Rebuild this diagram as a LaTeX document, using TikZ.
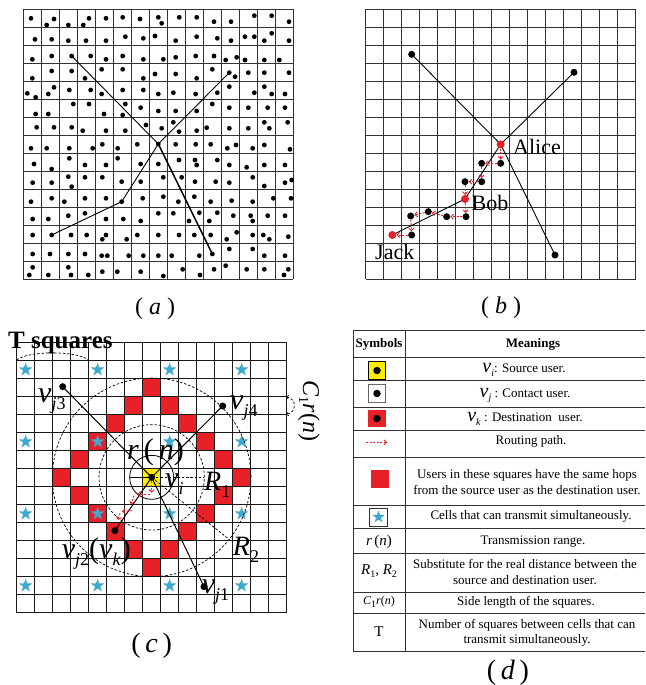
\documentclass[tikz,border=0pt]{standalone}
\usepackage{fontspec}
\setmainfont{Liberation Serif}
\usetikzlibrary{arrows.meta,shapes.geometric}
\definecolor{myred}{RGB}{232,32,40}
\definecolor{myyellow}{RGB}{255,236,0}
\definecolor{starblue}{RGB}{64,168,204}
\newcommand{\mysub}[1]{\raisebox{-7pt}{\fontsize{18}{18}\selectfont #1}}
\newcommand{\csub}[1]{\raisebox{-4pt}{\fontsize{14}{14}\selectfont #1}}
\newcommand{\tsub}[1]{\raisebox{-3.5pt}{\fontsize{10}{10}\selectfont #1}}
\newcommand{\bigv}{{\fontsize{20}{20}\selectfont\itshape v}}
\begin{document}
\begin{tikzpicture}[x=1pt,y=-1pt,
  gridl/.style={line width=0.6pt, draw=black!80},
  gridc/.style={line width=0.8pt, draw=black!90},
  conn/.style={line width=0.9pt, draw=black},
  bdot/.style={circle, fill=black, minimum size=7pt, inner sep=0pt},
  rdot/.style={circle, fill=myred, minimum size=8pt, inner sep=0pt},
  rarr/.style={draw=myred, line width=0.9pt, dash pattern=on 2pt off 1.5pt, -{Straight Barb[length=2.5pt,width=5pt]}},
  dcirc/.style={line width=0.7pt, dash pattern=on 2.5pt off 1.8pt},
  starnode/.style={star, star points=5, star point ratio=2.5, fill=starblue, minimum size=14pt, inner sep=0pt},
  tline/.style={line width=0.8pt, draw=black!80},
  cell/.style={font=\fontsize{13}{15.5}\selectfont, align=center, inner sep=0pt},
  biglab/.style={font=\fontsize{30}{30}\selectfont, anchor=base west, inner sep=0pt},
  namelab/.style={font=\fontsize{22}{22}\selectfont, anchor=base west, inner sep=0pt},
  capt/.style={font=\fontsize{24}{24}\selectfont, inner sep=0pt}]
\fill[white] (0,0) rectangle (645,685);
\useasboundingbox (0,0) rectangle (645,685);

% ---------------- (a)
\begin{scope}[x=0.33333pt,y=-0.33333pt]
 \foreach \k in {0,...,15} {
   \draw[gridl] (70+54*\k,28) -- (70+54*\k,838);
   \draw[gridl] (70,28+54*\k) -- (880,28+54*\k);
 }
 \coordinate (A1) at (215,168);
 \coordinate (AC) at (475,432);
 \coordinate (A2) at (637,762);
 \coordinate (B1) at (688,218);
 \coordinate (B2) at (365,605);
 \coordinate (B3) at (155,705);
 \draw[conn] (A1) -- (AC);
 \draw[conn, line width=1.5pt] (AC) -- (A2);
 \draw[conn] (B1) -- (AC) -- (B2) -- (B3);
 \foreach \c in {A1,AC,A2,B1,B2,B3} \fill (\c) circle[radius=2.4pt];
 \foreach \p in {(93,55),(140,75),(162,57),(205,75),(250,75),(267,55),(318,55),(368,52),(420,57),(475,52),(485,70),(538,52),(590,52),(642,65),(693,65),(763,47),(815,47),(867,65),
 (105,118),(155,118),(205,122),(258,122),(318,122),(376,110),(430,115),(465,108),(527,122),(590,110),(652,115),(693,122),(735,110),(763,110),(793,122),(815,100),(867,122),
 (97,178),(155,168),(272,168),(318,178),(368,168),(430,178),(490,178),(527,172),(587,168),(642,168),(677,180),(710,172),(735,180),(793,180),(838,180),
 (97,235),(155,213),(215,213),(255,235),(305,208),(368,208),(430,235),(465,222),(527,222),(590,235),(637,208),(705,230),(745,218),(793,218),(867,218),
 (82,280),(107,292),(145,282),(162,262),(208,270),(272,270),(305,282),(368,270),(430,270),(475,282),(520,278),(587,282),(652,278),(688,260),(763,278),(793,260),(815,282),(855,282),
 (107,342),(145,342),(220,312),(267,312),(312,342),(368,345),(376,312),(422,323),(475,333),(527,333),(590,333),(637,312),(688,323),(745,323),(803,323),(855,323),
 (110,382),(162,382),(215,382),(248,392),(318,392),(376,392),(438,375),(485,385),(520,367),(537,395),(590,392),(620,383),(688,385),(745,385),(793,367),(808,385),(863,367),
 (93,445),(140,445),(208,445),(278,445),(307,433),(353,445),(412,433),(527,433),(587,433),(632,433),(682,445),(708,435),(758,445),(793,435),(870,448),
 (102,492),(155,507),(208,475),(255,495),(318,495),(353,475),(422,492),(475,492),(537,480),(585,480),(590,495),(652,480),(688,495),(740,502),(793,495),(855,495),
 (98,548),(155,548),(205,530),(215,560),(255,532),(307,532),(365,545),(422,545),(490,532),(545,532),(585,545),(647,545),(688,548),(758,532),(793,558),(855,548),(875,540),
 (93,605),(155,595),(193,605),(255,595),(318,595),(428,595),(490,590),(535,605),(583,590),(632,605),(695,602),(758,605),(820,595),(873,595),
 (98,657),(145,657),(205,647),(255,640),(318,657),(370,657),(422,663),(475,640),(520,640),(567,663),(598,638),(628,663),(652,638),(700,647),(752,647),(758,663),(803,647),(855,647),
 (98,705),(213,705),(260,705),(307,718),(318,705),(380,718),(412,705),(475,705),(537,705),(583,705),(632,705),(680,718),(710,697),(758,705),(790,705),(808,718),(865,710),
 (98,762),(150,762),(205,762),(255,762),(305,767),(322,767),(386,767),(430,767),(475,767),(515,767),(598,767),(688,747),(758,747),(793,767),(855,767),
 (88,825),(98,802),(145,825),(205,802),(213,825),(265,825),(307,815),(352,815),(422,815),(490,828),(548,808),(600,825),(642,808),(677,797),(740,808),(793,808),(852,825),(865,808)}
   \fill \p circle[radius=2.4pt];
\end{scope}
\node[capt] (capa) at (155,309) {( \textit{a} )};

% ---------------- (b)
\begin{scope}[shift={(330pt,0pt)},x=0.33333pt,y=-0.33333pt]
 \foreach \k in {0,...,15} {
   \draw[gridl] (107+54*\k,28) -- (107+54*\k,838);
   \draw[gridl] (107,28+54*\k) -- (917,28+54*\k);
 }
 \coordinate (p1) at (245,163);
 \coordinate (p2) at (732,217);
 \coordinate (p3) at (675,765);
 \coordinate (al) at (512,433);
 \coordinate (bo) at (405,597);
 \coordinate (ja) at (187,705);
 \draw[conn] (p1) -- (al) -- (p3);
 \draw[conn] (p2) -- (al) -- (bo) -- (ja);
 \node[bdot] (p1d) at (p1) {};
 \node[bdot] (p2d) at (p2) {};
 \node[bdot] (p3d) at (p3) {};
 \node[bdot] (d1) at (512,490) {};
 \node[bdot] (d2) at (455,490) {};
 \node[bdot] (d3) at (455,545) {};
 \node[bdot] (d4) at (405,545) {};
 \node[bdot] (d5) at (408,650) {};
 \node[bdot] (d6) at (350,650) {};
 \node[bdot] (d7) at (295,635) {};
 \node[bdot] (d8) at (242,648) {};
 \node[bdot] (d9) at (245,705) {};
 \node[rdot] (alD) at (al) {};
 \node[rdot] (boD) at (bo) {};
 \node[rdot] (jaD) at (ja) {};
 \draw[rarr] (alD) -- (d1);
 \draw[rarr] (d1) -- (d2);
 \draw[rarr] (d2) -- (d3);
 \draw[rarr] (d3) -- (d4);
 \draw[rarr] (d4) -- (boD);
 \draw[rarr] (boD) -- (d5);
 \draw[rarr] (d5) -- (d6);
 \draw[rarr] (d6) -- (d7);
 \draw[rarr] (d7) -- (d8);
 \draw[rarr] (d8) -- (d9);
 \draw[rarr] (d9) -- (jaD);
\end{scope}
\node[namelab] (alicel) at (513,154) {Alice};
\node[namelab] (bobl) at (471.5,210.5) {Bob};
\node[namelab] (jackl) at (375,259) {Jack};
\node[capt] (capb) at (501,308) {( \textit{b} )};

% ---------------- (c)
\begin{scope}[shift={(0pt,-320pt)},x=0.33333pt,y=-0.33333pt]
 \foreach \i/\j in {7/2,6/3,8/3,5/4,9/4,4/5,10/5,3/6,11/6,2/7,12/7,3/8,11/8,4/9,10/9,5/10,9/10,6/11,8/11,7/12}
   \fill[myred] (50+54*\i,68+54*\j) rectangle ++(54,54);
 \fill[myyellow] (50+54*7,68+54*7) rectangle ++(54,54);
 \foreach \i in {0,4,8,12} \foreach \j in {1,5,9,13}
   \node[starnode] (s\i-\j) at (77+54*\i,95+54*\j) {};
 \foreach \k in {0,...,15} {
   \draw[gridc] (50+54*\k,68) -- (50+54*\k,878);
   \draw[gridc] (50,68+54*\k) -- (860,68+54*\k);
 }
 \coordinate (vi) at (455,472);
 \coordinate (vj1) at (612,800);
 \coordinate (vj2) at (345,632);
 \coordinate (vj3) at (188,200);
 \coordinate (vj4) at (668,258);
 \coordinate (rnend) at (389,472);
 \coordinate (r1end) at (613,472);
 \coordinate (r2end) at (687.6,658.3);
 \draw[line width=0.8pt] (vi) circle[radius=22pt];
 \draw[dcirc] (vi) circle[radius=52.7pt];
 \draw[dcirc] (vi) circle[radius=99.3pt];
 \draw[line width=0.8pt] (vi) -- (rnend);
 \draw[dcirc] (vi) -- (r1end);
 \draw[dcirc] (vi) -- (r2end);
 \draw[line width=1pt] (vj3) -- (vi) -- (vj1);
 \draw[line width=1pt] (vj4) -- (vi) -- (vj2);
 \node[bdot] (vjd1) at (vj1) {};
 \node[bdot] (vjd2) at (vj2) {};
 \node[bdot] (vjd3) at (vj3) {};
 \node[bdot] (vjd4) at (vj4) {};
 \node[bdot] (vid) at (vi) {};
 \coordinate (ca1) at (455,484);
 \coordinate (ca2) at (455,518);
 \coordinate (ca3) at (450,522);
 \coordinate (ca4) at (412,522);
 \coordinate (ca5) at (402,527);
 \coordinate (ca6) at (393,553);
 \coordinate (ca7) at (396,572);
 \coordinate (ca8) at (366,574);
 \coordinate (ca9) at (360,580);
 \coordinate (ca10) at (354,600);
 \draw[rarr] (ca1) -- (ca2);
 \draw[rarr] (ca3) -- (ca4);
 \draw[rarr] (ca5) -- (ca6);
 \draw[rarr] (ca7) -- (ca8);
 \draw[rarr] (ca9) -- (ca10);
\end{scope}
\coordinate (tsa) at (16.7,360);
\coordinate (tsb) at (88.3,360);
\draw[dcirc] (tsa) .. controls (28,350.5) and (77,350.5) .. (tsb);
\coordinate (cra) at (286,396.7);
\coordinate (crb) at (286,414.7);
\draw[dcirc, {Straight Barb[length=2pt,width=3.5pt]}-{Straight Barb[length=2pt,width=3.5pt]}] (cra) .. controls (297,399) and (297,412) .. (crb);
\node[font=\fontsize{25}{25}\selectfont\bfseries, anchor=base west, inner sep=0pt] (tsq) at (8,348) {T squares};
\node[font=\fontsize{24}{24}\selectfont, rotate=-90, inner sep=0pt] (c1rn) at (309,411) {\textit{C}\csub{1}\textit{r}(\textit{n})};
\node[biglab] (lvj3) at (38,402) {\textit{v}\mysub{\textit{j}3}};
\node[biglab] (lvj4) at (230,409) {\textit{v}\mysub{\textit{j}4}};
\node[biglab] (lvi) at (165,487) {\textit{v}\mysub{\textit{i}}};
\node[biglab, font=\fontsize{28}{28}\selectfont] (lr1) at (204,490) {\textit{R}\mysub{1}};
\node[biglab, font=\fontsize{28}{28}\selectfont] (lr2) at (232.7,555) {\textit{R}\mysub{2}};
\node[biglab] (lrn) at (127,459) {\textit{r}\,(\,\textit{n})};
\node[biglab] (lvj2) at (61.7,558) {\textit{v}\mysub{\textit{j}2}(\textit{v}\mysub{\textit{k}})};
\node[biglab] (lvj1) at (201.7,593.3) {\textit{v}\mysub{\textit{j}1}};
\node[capt, font=\fontsize{28}{28}\selectfont] (capc) at (151.7,646) {(\,\textit{c}\,)};

% ---------------- (d) table
\foreach \y in {330.7,357.3,380.7,407,430.3,457,505.3,528,553.3,592,613,651.5}
  \draw[tline] (353.3,\y) -- (645,\y);
\draw[tline] (353.3,330.7) -- (353.3,651.5);
\draw[tline] (405,330.7) -- (405,651.5);
\node[cell, font=\fontsize{13}{15.5}\selectfont\bfseries] (hsym) at (379,344) {Symbols};
\node[cell, font=\fontsize{13}{15.5}\selectfont\bfseries] (hmean) at (533,344) {Meanings};
\node[draw=black, line width=0.8pt, fill=myyellow, minimum size=17.5pt, inner sep=0pt] (sy1) at (377,370.5) {};
\node[bdot, minimum size=7.5pt] (sy1d) at (sy1) {};
\node[draw=black!60, line width=1pt, fill=white, minimum size=17.5pt, inner sep=0pt] (sy2) at (377,393.5) {};
\node[bdot, minimum size=7.5pt] (sy2d) at (sy2) {};
\node[fill=myred, minimum size=17.5pt, inner sep=0pt] (sy3) at (377,418.5) {};
\node[bdot, minimum size=7.5pt] (sy3d) at (sy3) {};
\coordinate (sy4a) at (366,442.3);
\coordinate (sy4b) at (387,442.3);
\draw[rarr] (sy4a) -- (sy4b);
\node[fill=myred, minimum size=18pt, inner sep=0pt] (sy5) at (380,479) {};
\node[draw=black!80, line width=0.9pt, minimum size=18pt, inner sep=0pt] (sy6) at (378.5,517) {};
\node[starnode, minimum size=13pt] (sy6s) at (sy6) {};
\node[cell, font=\fontsize{15}{15}\selectfont] (sy7) at (379,542) {\textit{r}\,(\textit{n})};
\node[cell, font=\fontsize{15}{15}\selectfont] (sy8) at (379,571) {\textit{R}\tsub{1}, \textit{R}\tsub{2}};
\node[cell, font=\fontsize{12}{12}\selectfont] (sy9) at (379,602) {\textit{C}\tsub{1}\textit{r}(\textit{n})};
\node[cell, font=\fontsize{15}{15}\selectfont] (sy10) at (379,632) {T};
\node[cell] (m1) at (524,370) {\bigv\tsub{\textit{i}}: Source user.};
\node[cell] (m2) at (525,395.5) {\bigv\tsub{\textit{j}} : Contact user.};
\node[cell] (m3) at (525,419) {\bigv\tsub{\textit{k}} : Destination\ \ user.};
\node[cell] (m4) at (531,441.5) {Routing path.};
\node[cell] (m5) at (527,482) {Users in these squares have the same hops\\from the source user as the destination user.};
\node[cell] (m6) at (531,516.5) {Cells that can transmit simultaneously.};
\node[cell] (m7) at (533,542) {Transmission range.};
\node[cell] (m8) at (525,572) {Substitute for the real distance between the\\source and destination user.};
\node[cell] (m9) at (526,602) {Side length of the squares.};
\node[cell] (m10) at (527,633) {Number of squares between cells that can\\transmit simultaneously.};
\node[capt, font=\fontsize{28}{28}\selectfont] (capd) at (508,673) {(\,\textit{d}\,)};
\end{tikzpicture}
\end{document}
